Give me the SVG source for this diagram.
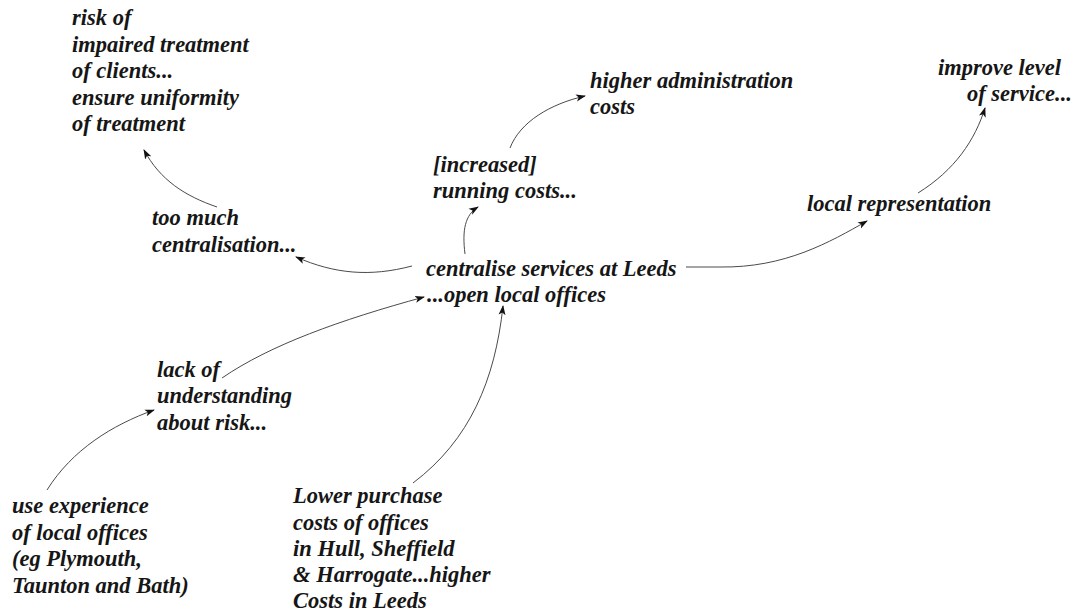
<svg xmlns="http://www.w3.org/2000/svg" width="1077" height="615" viewBox="0 0 1077 615">
<defs>
<marker id="ah" markerWidth="10" markerHeight="8" refX="9" refY="4" orient="auto" markerUnits="userSpaceOnUse">
<path d="M0,0.5 L10,4 L0,7.5 L2.5,4 Z" fill="#111"/>
</marker>
<style>
text{font-family:"Liberation Serif","Times New Roman",serif;font-style:italic;font-weight:bold;font-size:22.5px;fill:#161616}
.c{fill:none;stroke:#4a4a4a;stroke-width:1;marker-end:url(#ah)}
</style>
</defs>
<rect width="1077" height="615" fill="#fff"/>
<g id="connectors">
<path class="c" d="M412,266 C370,277 335,274 296,257"/>
<path class="c" d="M217,207 C185,196 160,180 144,150"/>
<path class="c" d="M465,254 C462,230 465,215 478,207"/>
<path class="c" d="M510,148 C520,122 550,104 585,96"/>
<path class="c" d="M686,267 L720,267 C785,268 830,242 867,221"/>
<path class="c" d="M918,193 C955,170 975,140 985,108"/>
<path class="c" d="M222,378 C270,345 340,320 424,297"/>
<path class="c" d="M47,490 C72,450 112,425 154,410"/>
<path class="c" d="M413,483 C470,440 495,380 503,306"/>
</g>
<g id="risk">
<text x="72" y="25">risk of</text>
<text x="72" y="52">impaired treatment</text>
<text x="72" y="78">of clients...</text>
<text x="72" y="105">ensure uniformity</text>
<text x="72" y="131">of treatment</text>
</g>
<g id="centralisation">
<text x="152" y="225">too much</text>
<text x="152" y="252">centralisation...</text>
</g>
<g id="running">
<text x="433" y="172">[increased]</text>
<text x="433" y="198">running costs...</text>
</g>
<g id="admin">
<text x="590" y="88">higher administration</text>
<text x="590" y="114">costs</text>
</g>
<g id="improve">
<text x="938" y="75">improve level</text>
<text x="967" y="101">of service...</text>
</g>
<g id="localrep">
<text x="807" y="211">local representation</text>
</g>
<g id="centre">
<text x="426" y="276">centralise services at Leeds</text>
<text x="427" y="302">...open local offices</text>
</g>
<g id="lack">
<text x="157" y="377">lack of</text>
<text x="157" y="403">understanding</text>
<text x="157" y="430">about risk...</text>
</g>
<g id="experience">
<text x="12" y="513">use experience</text>
<text x="12" y="540">of local offices</text>
<text x="12" y="566">(eg Plymouth,</text>
<text x="12" y="593">Taunton and Bath)</text>
</g>
<g id="purchase">
<text x="293" y="503">Lower purchase</text>
<text x="293" y="530">costs of offices</text>
<text x="293" y="556">in Hull, Sheffield</text>
<text x="293" y="582">&amp; Harrogate...higher</text>
<text x="293" y="608">Costs in Leeds</text>
</g>
</svg>
